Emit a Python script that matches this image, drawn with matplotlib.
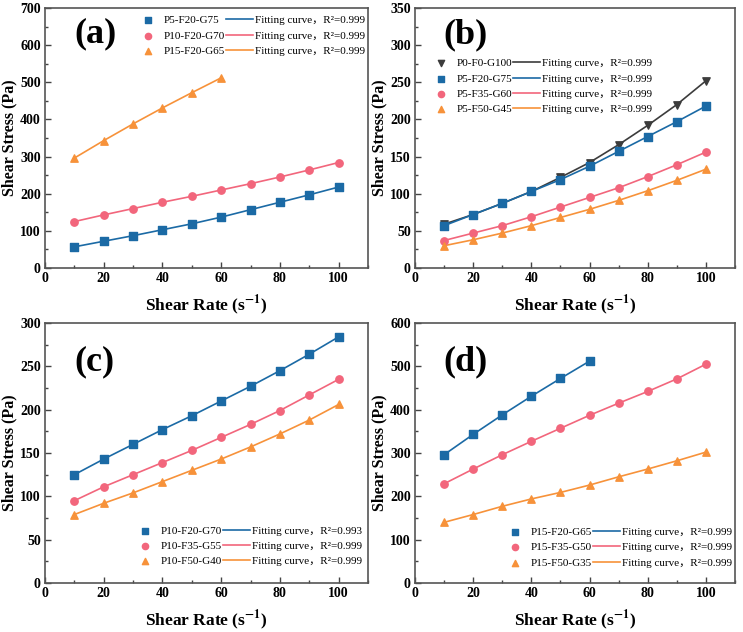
import matplotlib.pyplot as plt
from matplotlib.ticker import MultipleLocator

plt.rcParams['font.family'] = ['Liberation Serif', 'Noto Sans CJK SC']
plt.rcParams['mathtext.fontset'] = 'stix'

# Données
rate = [10, 20, 30, 40, 50, 60, 70, 80, 90, 100]
rate6 = [10, 20, 30, 40, 50, 60]

p0_f0_g100 = [59, 72, 87, 103, 122, 142, 166, 192, 220, 252]
p5_f20_g75 = [57, 72, 87, 103, 119, 137, 157, 177, 197, 218]
p5_f35_g60 = [37, 47, 57, 69, 82, 95, 108, 123, 139, 156]
p5_f50_g45 = [30, 38, 47, 57, 68, 79, 91, 104, 118, 133]
p10_f20_g70 = [125, 143, 160, 177, 193, 210, 227, 245, 264, 284]
p10_f35_g55 = [95, 111, 125, 139, 153, 168, 183, 199, 217, 235]
p10_f50_g40 = [79, 92, 104, 117, 130, 143, 157, 172, 188, 206]
p15_f20_g65 = [296, 343, 388, 431, 472, 512]
p15_f35_g50 = [229, 263, 296, 327, 357, 387, 415, 442, 471, 505]
p15_f50_g35 = [140, 158, 177, 194, 209, 226, 245, 263, 282, 302]

BLUE = '#1b6aa5'
PINK = '#f2667c'
ORANGE = '#f7923a'
BLACK = '#3c3c3c'

# tag, ymax, pas, position du tag, (loc légende, ancre), séries
panels = [
    ('(a)', 700, 100, 0.90, ('upper right', (0.995, 0.975)), [
        (rate, p5_f20_g75, 'P5-F20-G75', BLUE, 's', '0.999'),
        (rate, p10_f20_g70, 'P10-F20-G70', PINK, 'o', '0.999'),
        (rate6, p15_f20_g65, 'P15-F20-G65', ORANGE, '^', '0.999'),
    ]),
    ('(b)', 350, 50, 0.895, ('upper left', (0.035, 0.81)), [
        (rate, p0_f0_g100, 'P0-F0-G100', BLACK, 'v', '0.999'),
        (rate, p5_f20_g75, 'P5-F20-G75', BLUE, 's', '0.999'),
        (rate, p5_f35_g60, 'P5-F35-G60', PINK, 'o', '0.999'),
        (rate, p5_f50_g45, 'P5-F50-G45', ORANGE, '^', '0.999'),
    ]),
    ('(c)', 300, 50, 0.85, ('lower right', (0.985, 0.06)), [
        (rate, p10_f20_g70, 'P10-F20-G70', BLUE, 's', '0.993'),
        (rate, p10_f35_g55, 'P10-F35-G55', PINK, 'o', '0.999'),
        (rate, p10_f50_g40, 'P10-F50-G40', ORANGE, '^', '0.999'),
    ]),
    ('(d)', 600, 100, 0.85, ('lower right', (0.995, 0.055)), [
        (rate6, p15_f20_g65, 'P15-F20-G65', BLUE, 's', '0.999'),
        (rate, p15_f35_g50, 'P15-F35-G50', PINK, 'o', '0.999'),
        (rate, p15_f50_g35, 'P15-F50-G35', ORANGE, '^', '0.999'),
    ]),
]

fig = plt.figure(figsize=(7.43, 6.32), dpi=100)
boxes = [
    (45 / 743, 1 - 268 / 632, 323 / 743, 260 / 632),
    (415 / 743, 1 - 268 / 632, 320 / 743, 260 / 632),
    (45 / 743, 1 - 583 / 632, 323 / 743, 260 / 632),
    (415 / 743, 1 - 583 / 632, 320 / 743, 260 / 632),
]

for box, (tag, ymax, ystep, tag_y, (loc, anchor), series) in zip(boxes, panels):
    ax = fig.add_axes(box)
    markers = []
    lines = []
    for x, y, name, col, mk, r2 in series:
        ln, = ax.plot(x, y, color=col, lw=1.2)
        sc = ax.scatter(x, y, color=col, marker=mk, s=28, zorder=3)
        markers.append((sc, name))
        lines.append((ln, 'Fitting curve，R²=' + r2))

    ax.set_xlim(0, 110)
    ax.set_ylim(0, ymax)
    ax.xaxis.set_major_locator(MultipleLocator(20))
    ax.xaxis.set_minor_locator(MultipleLocator(10))
    ax.yaxis.set_major_locator(MultipleLocator(ystep))
    ax.yaxis.set_minor_locator(MultipleLocator(ystep / 2))
    ax.tick_params(which='both', direction='in', top=False, right=False,
                   labelsize=10, width=1, color='#444444', pad=3)
    ax.tick_params(which='major', length=4)
    ax.tick_params(which='minor', length=2)
    for lab in ax.get_xticklabels() + ax.get_yticklabels():
        lab.set_fontweight('bold')
    for sp in ax.spines.values():
        sp.set_color('#555555')
        sp.set_linewidth(1.2)

    ax.set_xlabel('Shear Rate (s$^{\\mathbf{-1}}$)', fontsize=12.5,
                  fontweight='bold', labelpad=6)
    ax.set_ylabel('Shear Stress (Pa)', fontsize=11.5, fontweight='bold',
                  labelpad=2)
    ax.text(0.09, tag_y, tag, transform=ax.transAxes, fontsize=26,
            fontweight='bold', va='center', ha='left')

    handles = [m[0] for m in markers] + [l[0] for l in lines]
    labels = [m[1] for m in markers] + [l[1] for l in lines]
    ax.legend(handles, labels, ncol=2, loc=loc, bbox_to_anchor=anchor,
              frameon=False, fontsize=8, handlelength=2.4,
              columnspacing=0.1, handletextpad=0.2, labelspacing=0.5,
              borderpad=0.1, borderaxespad=0, markerscale=0.85)

fig.savefig('out.png', dpi=100)
